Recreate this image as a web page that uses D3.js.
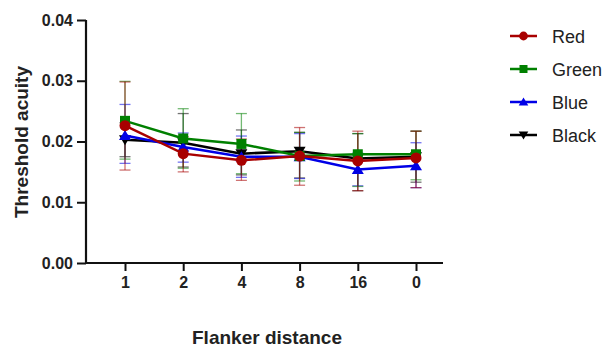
<!DOCTYPE html>
<html>
<head>
<meta charset="utf-8">
<script src="https://cdn.jsdelivr.net/npm/d3@7"></script>
<style>
  body { margin: 0; background: #fff; }
  text { font-family: "Liberation Sans", Arial, sans-serif; }
</style>
</head>
<body>
<div id="chart"></div>
<script>
// categories on the x axis
const distances = ["1", "2", "4", "8", "16", "0"];
const yTicks = [0, 0.01, 0.02, 0.03, 0.04];

// mean threshold per flanker distance
const redMean   = [0.0226, 0.0180, 0.0169, 0.0176, 0.0168, 0.0173];
const greenMean = [0.0234, 0.0205, 0.0196, 0.0176, 0.0179, 0.0179];
const blueMean  = [0.0210, 0.0191, 0.0175, 0.0175, 0.0154, 0.0160];
const blackMean = [0.0203, 0.0198, 0.0180, 0.0184, 0.0172, 0.0175];

// error bar ends (upper / lower)
const redHi   = [0.0298, 0.0208, 0.0204, 0.0223, 0.0217, 0.0217];
const redLo   = [0.0153, 0.0150, 0.0136, 0.0128, 0.0119, 0.0124];
const greenHi = [0.0299, 0.0254, 0.0246, 0.0215, 0.0213, 0.0217];
const greenLo = [0.0171, 0.0156, 0.0147, 0.0135, 0.0126, 0.0137];
const blueHi  = [0.0261, 0.0214, 0.0209, 0.0213, 0.0181, 0.0198];
const blueLo  = [0.0164, 0.0166, 0.0141, 0.0139, 0.0127, 0.0124];
const blackHi = [0.0231, 0.0246, 0.0219, 0.0215, 0.0213, 0.0217];
const blackLo = [0.0175, 0.0158, 0.0145, 0.0140, 0.0119, 0.0133];

const series = [
  { name: "Red",   color: "#a80000", mean: redMean,   hi: redHi,   lo: redLo,   shape: "circle" },
  { name: "Green", color: "#008000", mean: greenMean, hi: greenHi, lo: greenLo, shape: "square" },
  { name: "Blue",  color: "#0000e6", mean: blueMean,  hi: blueHi,  lo: blueLo,  shape: "up" },
  { name: "Black", color: "#000000", mean: blackMean, hi: blackHi, lo: blackLo, shape: "down" }
];

const width = 609, height = 349;
const margin = { top: 20, left: 86 };
const plotW = 357, plotH = 243;

const svg = d3.select("#chart").append("svg")
  .attr("width", width)
  .attr("height", height);

const g = svg.append("g")
  .attr("transform", `translate(${margin.left},${margin.top})`);

// first category sits ~39px in from the y axis, last ~27px before the axis end
const x = d3.scalePoint()
  .domain(distances)
  .range([39, 330]);

const y = d3.scaleLinear()
  .domain([0, 0.04])
  .range([plotH, 0]);

function marker(sel, shape, size) {
  if (shape === "circle") {
    sel.append("circle").attr("r", size * 0.55);
  } else if (shape === "square") {
    sel.append("rect").attr("x", -size / 2).attr("y", -size / 2)
      .attr("width", size).attr("height", size);
  } else if (shape === "up") {
    sel.append("path").attr("d", `M0,${-size * 0.55}L${size * 0.6},${size * 0.45}L${-size * 0.6},${size * 0.45}Z`);
  } else {
    sel.append("path").attr("d", `M0,${size * 0.55}L${size * 0.6},${-size * 0.45}L${-size * 0.6},${-size * 0.45}Z`);
  }
}

// error bars first (drawn lighter)
series.slice().reverse().forEach(s => {
  const eb = g.append("g")
    .attr("stroke", s.color)
    .attr("stroke-opacity", 0.55)
    .attr("stroke-width", 1.3);
  distances.forEach((d, i) => {
    const cx = x(d);
    eb.append("line").attr("x1", cx).attr("x2", cx).attr("y1", y(s.hi[i])).attr("y2", y(s.lo[i]));
    eb.append("line").attr("x1", cx - 5.5).attr("x2", cx + 5.5).attr("y1", y(s.hi[i])).attr("y2", y(s.hi[i]));
    eb.append("line").attr("x1", cx - 5.5).attr("x2", cx + 5.5).attr("y1", y(s.lo[i])).attr("y2", y(s.lo[i]));
  });
});

// lines and markers: black at the bottom, red on top
const line = d3.line()
  .x((v, i) => x(distances[i]))
  .y(v => y(v));

series.slice().reverse().forEach(s => {
  g.append("path")
    .datum(s.mean)
    .attr("fill", "none")
    .attr("stroke", s.color)
    .attr("stroke-width", 2.5)
    .attr("d", line);

  s.mean.forEach((v, i) => {
    const m = g.append("g")
      .attr("transform", `translate(${x(distances[i])},${y(v)})`)
      .attr("fill", s.color);
    marker(m, s.shape, 10);
  });
});

// axes
const xAxis = g.append("g")
  .attr("transform", `translate(0,${plotH})`)
  .call(d3.axisBottom(x).tickSize(8).tickSizeOuter(0).tickPadding(6));

const yAxis = g.append("g")
  .call(d3.axisLeft(y).tickValues(yTicks).tickFormat(d3.format(".2f")).tickSize(9).tickSizeOuter(0).tickPadding(4));

[xAxis, yAxis].forEach(a => {
  a.select(".domain").attr("stroke", "#111").attr("stroke-width", 2.2);
  a.selectAll(".tick line").attr("stroke", "#111").attr("stroke-width", 2);
  a.selectAll(".tick text")
    .attr("fill", "#222")
    .style("font-size", "16px")
    .style("font-weight", "bold");
});
// x domain runs the full plot width and meets the y axis
xAxis.select(".domain").attr("d", `M-1,0H${plotW}`);
yAxis.select(".domain").attr("d", `M0,0V${plotH + 1}`);

// axis titles
svg.append("text")
  .attr("x", 267)
  .attr("y", 344)
  .attr("text-anchor", "middle")
  .attr("fill", "#222")
  .style("font-size", "19px")
  .style("font-weight", "bold")
  .text("Flanker distance");

svg.append("text")
  .attr("transform", "translate(28,142) rotate(-90)")
  .attr("text-anchor", "middle")
  .attr("fill", "#222")
  .style("font-size", "19px")
  .style("font-weight", "bold")
  .text("Threshold acuity");

// legend
const legend = svg.append("g").attr("transform", "translate(510,36)");
series.forEach((s, i) => {
  const row = legend.append("g").attr("transform", `translate(0,${i * 33})`);
  row.append("line")
    .attr("x1", 0).attr("x2", 27)
    .attr("stroke", s.color)
    .attr("stroke-width", 2.5);
  const m = row.append("g").attr("transform", "translate(13.5,0)").attr("fill", s.color);
  marker(m, s.shape, 8);
  row.append("text")
    .attr("x", 42)
    .attr("y", 7)
    .attr("fill", "#222")
    .style("font-size", "18px")
    .text(s.name);
});
</script>
</body>
</html>
